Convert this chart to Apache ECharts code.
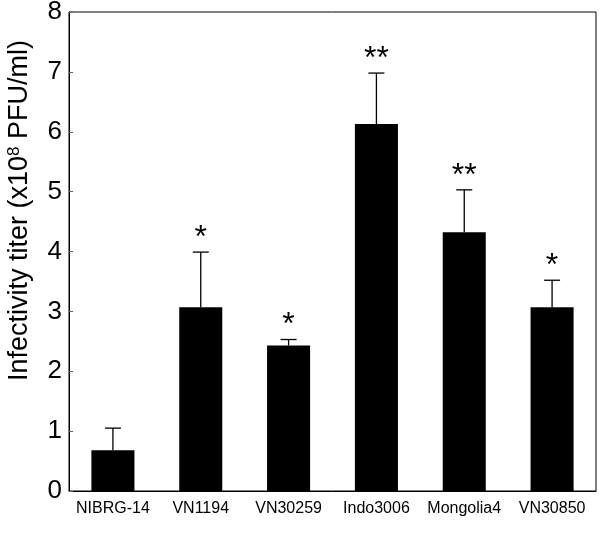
<!DOCTYPE html>
<html><head><meta charset="utf-8">
<script src="https://cdn.jsdelivr.net/npm/echarts@6/dist/echarts.min.js"></script>
<style>html,body{margin:0;padding:0;background:#fff}#c{width:603px;height:533px}</style>
</head><body><div id="c"></div>
<script>
var categories = ['NIBRG-14','VN1194','VN30259','Indo3006','Mongolia4','VN30850'];
var values = [0.68, 3.07, 2.43, 6.13, 4.32, 3.07];
var errorTops = [1.05, 3.99, 2.53, 6.98, 5.03, 3.52];
var marks = ['', '*', '*', '**', '**', '*'];
var yTicks = [0,1,2,3,4,5,6,7,8];

var chart = echarts.init(document.getElementById('c'));
var errData = categories.map(function(c,i){ return [i, values[i], errorTops[i], marks[i]]; });
chart.setOption({
  animation:false,
  textStyle:{fontFamily:'Liberation Sans, Arial, sans-serif'},
  grid:{left:69, top:12, right:7, bottom:42, show:true, borderColor:'#000', borderWidth:1, containLabel:false, outerBoundsMode:'none'},
  xAxis:{type:'category', data:categories,
    axisLine:{lineStyle:{color:'#000'}},
    axisTick:{inside:true, length:4, lineStyle:{color:'#666'}},
    axisLabel:{color:'#000', fontSize:16, margin:10, interval:0, hideOverlap:false}},
  yAxis:{type:'value', min:0, max:8, interval:1,
    axisLine:{show:true, lineStyle:{color:'#000'}},
    axisTick:{show:true, inside:true, length:4, lineStyle:{color:'#666'}},
    splitLine:{show:false},
    axisLabel:{color:'#000', fontSize:26, margin:7},
    name:'{a|Infectivity titer (x10}{s|8}{a| PFU/ml)}', nameLocation:'middle', nameGap:36,
    nameTextStyle:{padding:[0,0,0,82], rich:{a:{fontSize:27, color:'#000', fontFamily:'Liberation Sans, Arial, sans-serif'}, s:{fontSize:17, color:'#000', verticalAlign:'top', padding:[0,0,10,0], fontFamily:'Liberation Sans, Arial, sans-serif'}}}},
  series:[
    {type:'bar', data:values, barWidth:'49%', itemStyle:{color:'#000'}, z:2},
    {type:'custom', data:errData, z:3,
      renderItem:function(params, api){
        var x = api.value(0);
        var base = api.coord([x, api.value(1)]);
        var top = api.coord([x, api.value(2)]);
        var cap = 8;
        return {type:'group', children:[
          {type:'line', shape:{x1:base[0], y1:base[1], x2:top[0], y2:top[1]}, style:{stroke:'#000', lineWidth:1.3}},
          {type:'line', shape:{x1:top[0]-cap, y1:top[1], x2:top[0]+cap, y2:top[1]}, style:{stroke:'#000', lineWidth:1.3}},
          {type:'text', x:top[0], y:top[1]+2, style:{text:api.value(3), fill:'#000', font:'32px Liberation Sans, Arial, sans-serif', textAlign:'center', textVerticalAlign:'bottom'}}
        ]};
      }}
  ]
});
</script></body></html>
